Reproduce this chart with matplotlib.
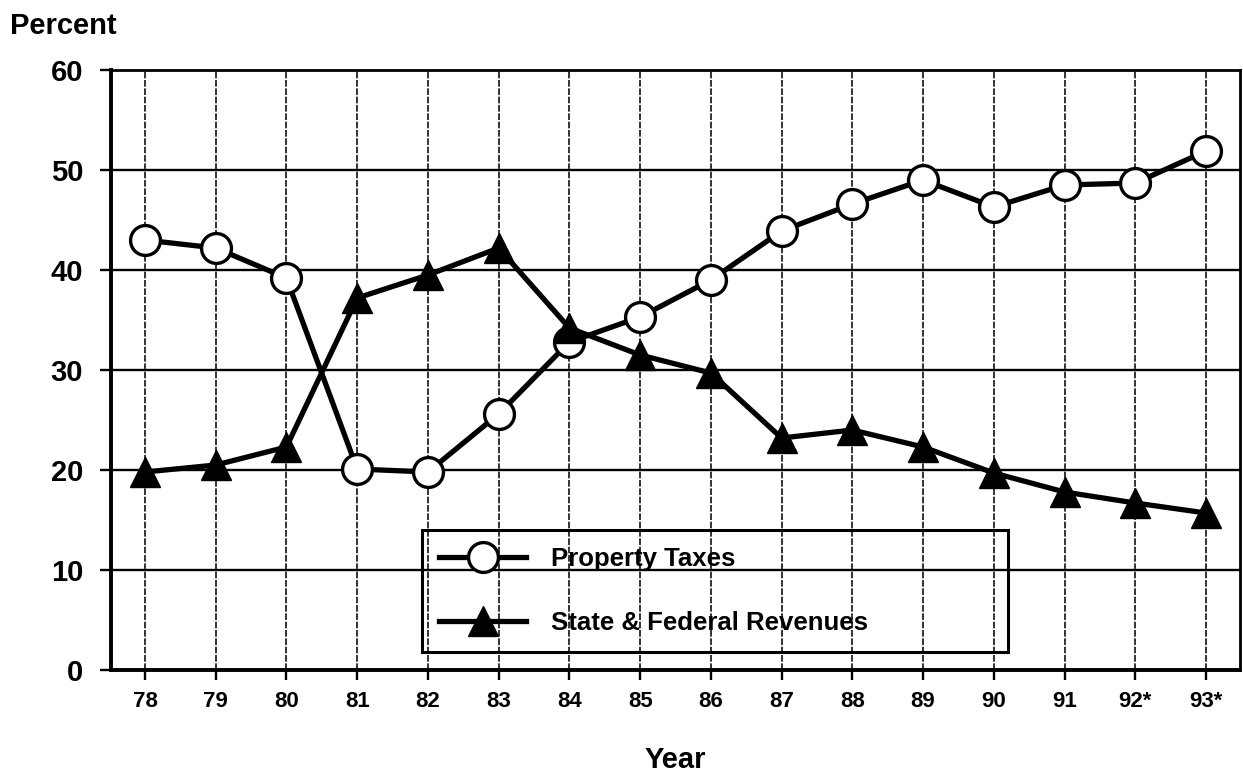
import matplotlib
matplotlib.use("Agg")
import matplotlib.pyplot as plt

plt.rcParams['font.family'] = ['Liberation Sans', 'DejaVu Sans']
plt.rcParams['font.weight'] = 'bold'

# --- DATA ---
years = ['78', '79', '80', '81', '82', '83', '84', '85', '86', '87',
         '88', '89', '90', '91', '92*', '93*']
property_taxes = [43.0, 42.2, 39.2, 20.1, 19.8, 25.6, 32.8, 35.3, 39.0, 43.9,
                  46.6, 49.0, 46.3, 48.5, 48.7, 51.9]
state_federal = [19.8, 20.5, 22.3, 37.2, 39.5, 42.2, 34.2, 31.5, 29.7, 23.2,
                 24.0, 22.3, 19.7, 17.8, 16.7, 15.7]
y_ticks = [0, 10, 20, 30, 40, 50, 60]

x = list(range(len(years)))

fig = plt.figure(figsize=(12.43, 7.77), dpi=100)
ax = fig.add_axes([0.0893, 0.1377, 0.9083, 0.7722])

# grid (scanned look: solid horizontals, fine broken verticals)
ax.set_axisbelow(True)
for yv in y_ticks[1:-1]:
    ax.axhline(yv, color='black', lw=1.7, zorder=0)
for xv in x:
    ax.axvline(xv, color='#111111', lw=1.2, ls=(0, (4, 1)), zorder=0)

# series
ax.plot(x, property_taxes, color='black', lw=3.8, marker='o', markersize=21.5,
        markerfacecolor='white', markeredgecolor='black', markeredgewidth=2.4,
        label='Property Taxes', zorder=3)
ax.plot(x, state_federal, color='black', lw=3.8, marker='^', markersize=22,
        markerfacecolor='black', markeredgecolor='black',
        label='State & Federal Revenues', zorder=4)

ax.set_xlim(-0.48, 15.48)
ax.set_ylim(0, 60)
ax.set_xticks(x)
ax.set_xticklabels(years, fontsize=16, fontweight='bold')
ax.set_yticks(y_ticks)
ax.set_yticklabels([str(v) for v in y_ticks], fontsize=21, fontweight='bold')
ax.tick_params(axis='y', direction='out', length=8, width=1.7, pad=12)
ax.tick_params(axis='x', direction='out', length=7, width=1.7, pad=8)

for side in ['left', 'bottom']:
    ax.spines[side].set_linewidth(2.8)
for side in ['top', 'right']:
    ax.spines[side].set_linewidth(2.0)

# legend
leg = ax.legend(loc='lower left', bbox_to_anchor=(0.2755, 0.03, 0.519, 0.2),
                mode='expand', fontsize=18.5, handlelength=3.4, handletextpad=0.95,
                borderpad=0.66, labelspacing=1.56, borderaxespad=0,
                fancybox=False, frameon=True, framealpha=1)
leg.get_frame().set_facecolor('none')
leg.get_frame().set_edgecolor('black')
leg.get_frame().set_linewidth(2.2)
for t in leg.get_texts():
    t.set_fontweight('bold')

fig.text(0.008, 0.967, 'Percent', fontsize=21, fontweight='bold', va='center', ha='left')
fig.text(0.5435, 0.022, 'Year', fontsize=21, fontweight='bold', va='center', ha='center')

fig.savefig('out.png', dpi=100)
